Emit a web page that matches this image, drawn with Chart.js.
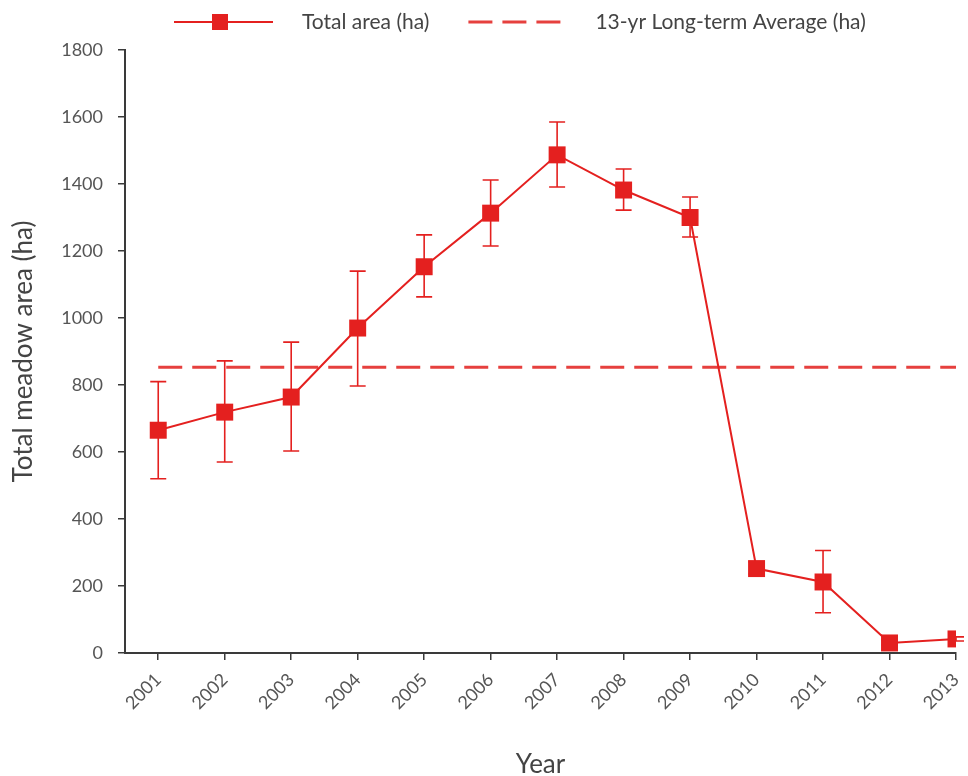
<!DOCTYPE html>
<html>
<head>
<meta charset="utf-8">
<script src="https://cdn.jsdelivr.net/npm/chart.js@4.4.0/dist/chart.umd.min.js"></script>
<style>
  body { margin: 0; background: #fff; }
  #wrap { width: 968px; height: 776px; }
</style>
</head>
<body>
<div id="wrap"><canvas id="meadow-chart"></canvas></div>
<script>
// values
var years = ['2001', '2002', '2003', '2004', '2005', '2006', '2007', '2008', '2009', '2010', '2011', '2012', '2013'];
var totalArea = [665, 719, 764, 970, 1153, 1313, 1487, 1382, 1300, 252, 212, 30, 42];
var errLow = [520, 570, 603, 797, 1063, 1215, 1391, 1322, 1242, 236, 120, 24, 36];
var errHigh = [810, 872, 928, 1140, 1248, 1412, 1585, 1445, 1361, 272, 306, 38, 48];
var longTermAvg = [853, 853, 853, 853, 853, 853, 853, 853, 853, 853, 853, 853, 853];
var yTicks = [0, 200, 400, 600, 800, 1000, 1200, 1400, 1600, 1800];

var RED = '#e4201f';
var AXIS = '#3a3a3a';
var TXT = '#555555';
var FONT = 'Lato';

function points(arr) {
    return arr.map(function(v, i) { return { x: i, y: v }; });
}

var errorBars = {
    id: 'errorBars',
    beforeDatasetsDraw: function(chart) {
        var ctx = chart.ctx, xs = chart.scales.x, ys = chart.scales.y;
        ctx.save();
        ctx.strokeStyle = RED;
        ctx.lineWidth = 1.6;
        for (var i = 0; i < years.length; i++) {
            var px = xs.getPixelForValue(i);
            var top = ys.getPixelForValue(errHigh[i]);
            var bot = ys.getPixelForValue(errLow[i]);
            ctx.beginPath();
            ctx.moveTo(px, top); ctx.lineTo(px, bot);
            ctx.moveTo(px - 8, top); ctx.lineTo(px + 8, top);
            ctx.moveTo(px - 8, bot); ctx.lineTo(px + 8, bot);
            ctx.stroke();
        }
        ctx.restore();
    }
};

var topLegend = {
    id: 'topLegend',
    afterDraw: function(chart) {
        var ctx = chart.ctx;
        var y = 22, x = 174;
        var sets = chart.data.datasets;
        ctx.save();
        ctx.font = '21px ' + FONT;
        ctx.textBaseline = 'middle';

        // solid line with square marker
        ctx.strokeStyle = sets[0].borderColor;
        ctx.lineWidth = 2;
        ctx.beginPath(); ctx.moveTo(x, y); ctx.lineTo(x + 99, y); ctx.stroke();
        ctx.fillStyle = sets[0].backgroundColor;
        ctx.fillRect(x + 46 - 8, y - 8, 16, 16);
        ctx.fillStyle = '#444';
        x += 128;
        ctx.fillText(sets[0].label, x, y);
        x += ctx.measureText(sets[0].label).width + 39;

        // dashed line
        ctx.strokeStyle = sets[1].borderColor;
        ctx.lineWidth = 3;
        ctx.setLineDash([24, 10]);
        ctx.beginPath(); ctx.moveTo(x, y); ctx.lineTo(x + 92, y); ctx.stroke();
        ctx.setLineDash([]);
        x += 127;
        ctx.fillText(sets[1].label, x, y);
        ctx.restore();
    }
};

var ctx = document.getElementById('meadow-chart').getContext('2d');

var meadowChart = new Chart(ctx, {
    type: 'line',
    data: {
        datasets: [{
            label: 'Total area (ha)',
            data: points(totalArea),
            borderColor: RED,
            backgroundColor: RED,
            borderWidth: 2,
            pointStyle: 'rect',
            pointRadius: 12,
            pointBorderWidth: 0,
            tension: 0
        }, {
            label: '13-yr Long-term Average (ha)',
            data: points(longTermAvg),
            borderColor: '#e6403e',
            backgroundColor: '#e6403e',
            borderWidth: 3,
            borderDash: [24, 10],
            pointRadius: 0,
            tension: 0
        }]
    },
    options: {
        responsive: true,
        maintainAspectRatio: false,
        animation: false,
        layout: { padding: { top: 50, right: -3, left: 0, bottom: 0 } },
        plugins: {
            legend: { display: false },
            tooltip: { enabled: false }
        },
        scales: {
            x: {
                type: 'linear',
                min: -0.5,
                max: 12,
                afterBuildTicks: function(s) {
                    s.ticks = years.map(function(y, i) { return { value: i }; });
                },
                afterFit: function(s) {
                    s.height = 123;
                    s.paddingRight = 0;
                    s.paddingLeft = 0;
                },
                grid: { drawOnChartArea: false, color: AXIS, tickLength: 7, lineWidth: 1.5 },
                border: { color: AXIS, width: 2 },
                ticks: {
                    autoSkip: false,
                    maxRotation: 45,
                    minRotation: 45,
                    padding: 9,
                    color: TXT,
                    font: { family: FONT, size: 18 },
                    callback: function(v) { return years[v]; }
                },
                title: {
                    display: true,
                    text: 'Year',
                    color: '#444',
                    font: { family: FONT, size: 26 },
                    padding: { top: 0, bottom: -4 }
                }
            },
            y: {
                min: 0,
                max: 1800,
                afterBuildTicks: function(s) {
                    s.ticks = yTicks.map(function(v) { return { value: v }; });
                },
                afterFit: function(s) { s.width = 125; },
                grid: { drawOnChartArea: false, color: AXIS, tickLength: 7, lineWidth: 1.5 },
                border: { color: AXIS, width: 2 },
                ticks: {
                    color: TXT,
                    padding: 15,
                    font: { family: FONT, size: 18 },
                    callback: function(v) { return String(v); }
                },
                title: {
                    display: true,
                    text: 'Total meadow area (ha)',
                    color: '#444',
                    font: { family: FONT, size: 26 },
                    padding: { top: 8, bottom: 0 }
                }
            }
        }
    },
    plugins: [errorBars, topLegend]
});
</script>
</body>
</html>
